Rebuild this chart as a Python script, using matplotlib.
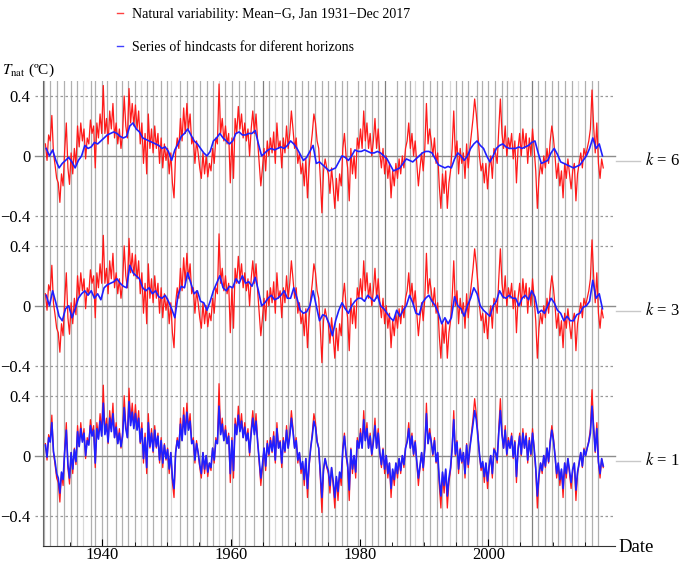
import matplotlib
matplotlib.use("Agg")
import matplotlib.pyplot as plt
import numpy as np

plt.rcParams['font.family'] = ['Liberation Serif', 'DejaVu Serif']
plt.rcParams['mathtext.fontset'] = 'stix'

# natural variability (red), quarterly values, 1931-2017
t_nat = [
    0.08, -0.03, 0.14, 0.10,   0.27, 0.02, -0.06, -0.15,   -0.18, -0.31, -0.12, -0.20,
    0.04, 0.22, -0.08, -0.19,  0.02, -0.12, 0.05, -0.06,   0.20, 0.06, 0.22, 0.10,
    0.18, -0.02, 0.12, 0.08,   0.24, 0.15, 0.20, -0.08,    0.22, 0.12, 0.28, 0.15,
    0.47, 0.15, 0.25, 0.08,    0.30, 0.18, 0.35, 0.12,     0.22, 0.08, 0.18, 0.05,
    0.15, 0.40, 0.20, 0.12,    0.45, 0.22, 0.35, 0.20,     0.34, 0.18, 0.30, 0.08,
    0.22, -0.05, 0.15, -0.12,  0.28, 0.05, 0.18, 0.02,     0.20, 0.05, 0.15, -0.05,
    0.12, -0.08, 0.08, -0.03,  0.05, -0.12, 0.02, -0.18,   -0.28, 0.02, 0.12, 0.05,
    0.25, 0.10, 0.32, 0.15,    0.35, 0.18, 0.28, 0.08,     0.12, -0.05, 0.10, 0.02,
    -0.08, -0.15, 0.02, -0.12, 0.00, -0.14, -0.05, -0.10,  0.05, -0.05, 0.12, 0.08,
    0.48, 0.15, 0.25, 0.10,    0.20, 0.08, 0.15, -0.18,    0.12, -0.15, 0.25, 0.15,
    0.33, 0.18, 0.28, 0.12,    0.22, 0.10, 0.18, 0.00,     0.18, 0.30, 0.15, 0.28,
    0.10, -0.05, -0.20, -0.08, 0.05, -0.10, 0.10, 0.00,    0.12, 0.02, 0.16, -0.05,
    0.22, 0.05, 0.10, -0.08,   0.12, 0.02, 0.20, 0.05,     0.15, 0.30, 0.18, 0.05,
    0.12, -0.05, 0.02, -0.12,  -0.05, -0.20, -0.02, -0.28, -0.08, 0.05, 0.15, 0.28,
    0.22, 0.10, 0.05, -0.15,   -0.38, -0.10, -0.02, -0.08, -0.12, -0.25, -0.08, -0.20,
    -0.35, -0.15, -0.30, -0.12, -0.20, 0.05, 0.15, 0.00,   -0.08, -0.30, 0.05, -0.12,
    0.00, -0.15, 0.12, 0.05,   0.18, 0.05, 0.30, 0.10,     0.22, 0.05, 0.15, 0.00,
    0.10, 0.25, 0.05, 0.18,    0.02, -0.08, 0.05, -0.12,   0.00, -0.15, -0.05, -0.28,
    -0.10, -0.20, -0.05, -0.15, -0.02, -0.12, 0.00, -0.08, 0.05, 0.10, 0.22, 0.05,
    0.15, 0.00, 0.10, -0.05,   -0.20, -0.08, 0.02, -0.10,  0.05, 0.35, 0.08, 0.18,
    0.10, 0.00, 0.12, -0.05,   0.02, -0.20, -0.35, -0.12,  -0.25, -0.10, -0.35, -0.18,
    -0.10, 0.05, 0.30, 0.00,   0.10, -0.12, 0.05, -0.05,   0.02, -0.15, 0.08, -0.08,
    0.05, 0.15, 0.25, 0.38,    0.28, 0.15, 0.00, -0.10,    -0.05, -0.18, -0.05, -0.22,
    -0.08, 0.00, -0.15, 0.05,  0.02, -0.05, 0.18, 0.38,    0.15, 0.05, 0.20, 0.00,
    0.12, 0.05, 0.15, -0.02,   0.10, -0.18, 0.05, 0.15,    0.00, 0.18, 0.05, 0.15,
    -0.05, 0.12, 0.00, 0.18,   0.05, -0.10, -0.35, -0.15,  -0.05, -0.12, 0.00, -0.08,
    0.05, -0.05, 0.10, 0.20,   0.12, 0.00, -0.15, -0.05,   -0.20, -0.10, -0.28, -0.05,
    -0.15, -0.02, -0.12, -0.22, -0.10, -0.05, -0.30, -0.12, -0.05, 0.02, -0.08, 0.05,
    0.00, 0.05, 0.10, 0.18,    0.44, 0.20, 0.02, 0.22,     -0.05, -0.15, -0.02, -0.08,
]

# hindcasts, k = 1 (quarterly)
hind_k1 = [
    0.07, -0.01, 0.12, 0.09,   0.22, 0.03, -0.04, -0.12,   -0.15, -0.25, -0.11, -0.16,
    0.03, 0.17, -0.06, -0.15,  0.02, -0.09, 0.04, -0.04,   0.16, 0.06, 0.18, 0.09,
    0.15, 0.00, 0.10, 0.07,    0.20, 0.13, 0.17, -0.05,    0.18, 0.11, 0.23, 0.13,
    0.35, 0.14, 0.21, 0.09,    0.25, 0.16, 0.28, 0.12,     0.19, 0.08, 0.15, 0.06,
    0.13, 0.32, 0.18, 0.12,    0.36, 0.20, 0.29, 0.18,     0.28, 0.17, 0.25, 0.09,
    0.18, -0.02, 0.12, -0.08,  0.22, 0.06, 0.15, 0.03,     0.17, 0.06, 0.13, -0.03,
    0.10, -0.05, 0.07, -0.02,  0.04, -0.09, 0.02, -0.15,   -0.22, 0.02, 0.10, 0.05,
    0.21, 0.10, 0.27, 0.14,    0.29, 0.17, 0.23, 0.08,     0.10, -0.03, 0.08, 0.02,
    -0.06, -0.12, 0.02, -0.09, 0.00, -0.11, -0.05, -0.08,  0.05, -0.03, 0.10, 0.08,
    0.33, 0.14, 0.21, 0.10,    0.17, 0.08, 0.13, -0.12,    0.10, -0.10, 0.21, 0.14,
    0.27, 0.16, 0.23, 0.12,    0.19, 0.10, 0.15, 0.02,     0.15, 0.25, 0.14, 0.23,
    0.09, -0.03, -0.15, -0.06, 0.05, -0.07, 0.08, 0.01,    0.10, 0.03, 0.13, -0.03,
    0.18, 0.05, 0.09, -0.05,   0.10, 0.03, 0.17, 0.05,     0.13, 0.25, 0.16, 0.05,
    0.10, -0.03, 0.02, -0.09,  -0.04, -0.16, -0.02, -0.22, -0.06, 0.05, 0.13, 0.23,
    0.19, 0.09, 0.05, -0.11,   -0.28, -0.09, -0.02, -0.07, -0.10, -0.20, -0.08, -0.17,
    -0.28, -0.14, -0.24, -0.11, -0.15, 0.04, 0.13, 0.01,   -0.06, -0.23, 0.04, -0.09,
    0.00, -0.11, 0.10, 0.05,   0.15, 0.05, 0.24, 0.10,     0.18, 0.05, 0.13, 0.01,
    0.09, 0.20, 0.05, 0.15,    0.02, -0.06, 0.04, -0.09,   0.00, -0.12, -0.05, -0.22,
    -0.09, -0.16, -0.05, -0.12, -0.02, -0.10, 0.00, -0.06, 0.05, 0.09, 0.18, 0.05,
    0.13, 0.01, 0.09, -0.04,   -0.15, -0.07, 0.02, -0.08,  0.05, 0.28, 0.08, 0.15,
    0.09, 0.01, 0.10, -0.04,   0.02, -0.16, -0.27, -0.11,  -0.20, -0.09, -0.27, -0.15,
    -0.08, 0.05, 0.24, 0.01,   0.09, -0.09, 0.04, -0.04,   0.02, -0.12, 0.07, -0.06,
    0.05, 0.13, 0.21, 0.30,    0.24, 0.13, 0.01, -0.08,    -0.04, -0.14, -0.05, -0.17,
    -0.07, 0.00, -0.12, 0.04,  0.02, -0.03, 0.15, 0.30,    0.14, 0.05, 0.17, 0.01,
    0.10, 0.05, 0.13, -0.01,   0.09, -0.14, 0.04, 0.13,    0.01, 0.15, 0.05, 0.13,
    -0.03, 0.10, 0.01, 0.15,   0.05, -0.08, -0.27, -0.13,  -0.05, -0.10, 0.00, -0.07,
    0.05, -0.04, 0.09, 0.17,   0.10, 0.00, -0.12, -0.05,   -0.16, -0.09, -0.22, -0.05,
    -0.12, -0.02, -0.10, -0.18, -0.09, -0.05, -0.23, -0.11, -0.05, 0.02, -0.07, 0.04,
    0.00, 0.05, 0.09, 0.15,    0.33, 0.18, 0.03, 0.18,     -0.04, -0.12, -0.02, -0.07,
]

# hindcasts, k = 3 (half-yearly)
hind_k3 = [
    0.07, 0.00, 0.10, 0.02, -0.07, -0.10, -0.02, 0.00, -0.08, -0.02,
    0.05, 0.08, 0.10, 0.07, 0.10, 0.05, 0.08, 0.04, 0.12, 0.14,
    0.15, 0.16, 0.18, 0.15, 0.13, 0.12, 0.27, 0.22, 0.20, 0.18,
    0.12, 0.10, 0.12, 0.08, 0.10, 0.06, 0.05, 0.07, 0.03, -0.02,
    -0.08, 0.07, 0.13, 0.12, 0.22, 0.15, 0.08, 0.10, 0.03, 0.02,
    -0.03, 0.03, 0.10, 0.15, 0.20, 0.12, 0.10, 0.13, 0.12, 0.18,
    0.15, 0.20, 0.15, 0.16, 0.13, 0.19, 0.10, 0.00, 0.02, 0.05,
    0.07, 0.04, 0.05, 0.07, 0.10, 0.05, 0.05, 0.12, 0.05, -0.03,
    -0.05, -0.04, 0.00, 0.10, 0.00, -0.10, -0.06, -0.07, -0.12, -0.20,
    -0.10, -0.03, 0.02, -0.02, -0.05, 0.00, 0.03, 0.05, 0.05, 0.03,
    0.07, 0.05, 0.03, 0.07, 0.00, -0.02, -0.05, -0.08, -0.10, -0.03,
    -0.07, -0.03, 0.00, 0.07, 0.02, -0.05, -0.06, 0.02, 0.05, 0.07,
    0.03, 0.00, -0.05, -0.12, -0.08, -0.12, -0.08, 0.06, 0.00, -0.02,
    -0.07, 0.00, 0.05, 0.12, 0.08, 0.00, -0.03, -0.05, -0.07, 0.00,
    0.03, 0.10, 0.06, 0.05, 0.07, 0.05, 0.05, 0.00, 0.05, 0.07,
    0.04, 0.10, 0.06, -0.05, -0.03, -0.05, 0.00, 0.05, 0.02, -0.03,
    -0.05, -0.10, -0.07, -0.10, -0.10, -0.06, -0.05, -0.01, 0.00, 0.03,
    0.17, 0.05, 0.08, -0.02,
]

# hindcasts, k = 6 (half-yearly)
hind_k6 = [
    0.05, 0.00, 0.04, -0.03, -0.08, -0.05, -0.03, -0.01, -0.04, -0.08,
    -0.03, 0.00, 0.07, 0.05, 0.06, 0.09, 0.08, 0.10, 0.12, 0.14,
    0.15, 0.16, 0.15, 0.13, 0.12, 0.13, 0.20, 0.22, 0.18, 0.16,
    0.12, 0.11, 0.10, 0.09, 0.08, 0.07, 0.05, 0.06, 0.03, -0.03,
    0.04, 0.08, 0.13, 0.15, 0.18, 0.14, 0.10, 0.08, 0.05, 0.02,
    0.00, 0.03, 0.10, 0.12, 0.15, 0.12, 0.10, 0.08, 0.10, 0.15,
    0.16, 0.14, 0.14, 0.15, 0.15, 0.17, 0.08, 0.00, 0.02, 0.04,
    0.05, 0.04, 0.05, 0.06, 0.05, 0.07, 0.10, 0.08, 0.05, 0.01,
    -0.03, -0.01, 0.03, 0.07, -0.05, -0.04, -0.06, -0.08, -0.10, -0.09,
    -0.08, -0.04, 0.00, -0.01, -0.03, 0.00, 0.04, 0.03, 0.03, 0.04,
    0.03, 0.02, 0.02, 0.03, 0.02, 0.00, -0.02, -0.06, -0.10, -0.09,
    -0.08, -0.05, -0.02, -0.03, -0.04, -0.02, 0.00, 0.02, 0.03, 0.03,
    0.02, -0.02, -0.06, -0.07, -0.08, -0.07, -0.08, -0.02, 0.02, 0.00,
    -0.03, 0.00, 0.05, 0.08, 0.10, 0.07, 0.05, 0.00, -0.04, 0.00,
    0.05, 0.07, 0.08, 0.06, 0.05, 0.05, 0.05, 0.06, 0.05, 0.06,
    0.07, 0.09, 0.10, 0.02, -0.05, -0.04, -0.03, 0.02, 0.05, 0.01,
    -0.04, -0.05, -0.06, -0.07, -0.08, -0.07, -0.06, -0.03, 0.00, 0.05,
    0.12, 0.05, 0.08, 0.00,
]

# gray vertical reference lines (year, shade)
vline_years = [
    1930.9, 1931.9, 1933.0, 1934.0, 1935.05, 1936.1, 1937.0, 1938.2, 1938.8, 1939.9,
    1940.75, 1942.1, 1943.0, 1944.0, 1945.05, 1946.0, 1946.9, 1947.9, 1949.05, 1950.0,
    1950.6, 1952.05, 1953.1, 1954.1, 1955.2, 1956.2, 1957.2, 1958.1, 1959.05, 1960.1,
    1961.3, 1962.2, 1963.5, 1964.9, 1965.9, 1966.8, 1967.9, 1968.9, 1969.9, 1971.0,
    1972.0, 1973.05, 1974.1, 1975.1, 1976.2, 1977.2, 1978.0, 1979.8, 1980.8, 1981.9,
    1982.9, 1983.9, 1985.75, 1987.0, 1987.8, 1988.6, 1989.9, 1990.9, 1992.0, 1992.75,
    1994.0, 1994.9, 1995.9, 1996.9, 1998.2, 1999.0, 2000.0, 2001.0, 2002.1, 2002.9,
    2003.9, 2004.9, 2006.75, 2007.8, 2008.8, 2009.9, 2010.9, 2011.9, 2013.0, 2014.0,
    2015.0, 2016.1, 2017.1,
]
vline_shade = [
    'm', 'm', 'm', 'm', 'm', 'm', 'l', 'm', 'm', 'm',
    'm', 'm', 'm', 'm', 'm', 'l', 'm', 'm', 'm', 'm',
    'l', 'm', 'm', 'm', 'm', 'm', 'm', 'l', 'm', 'm',
    'm', 'm', 'm', 'd', 'm', 'l', 'm', 'm', 'm', 'm',
    'm', 'm', 'm', 'm', 'm', 'm', 'm', 'm', 'm', 'm',
    'm', 'd', 'm', 'm', 'm', 'l', 'm', 'm', 'm', 'm',
    'l', 'm', 'm', 'm', 'm', 'm', 'm', 'm', 'm', 'm',
    'l', 'm', 'd', 'm', 'm', 'm', 'm', 'm', 'm', 'l',
    'm', 'm', 'm',
]
shade_col = {'l': '#d8d8d8', 'm': '#b0b0b0', 'd': '#808080'}

horizons = [1, 3, 6]
hindcasts = [hind_k1, hind_k3, hind_k6]
yticks_rel = [-0.4, 0, 0.4]

x_q = 1931 + (np.arange(len(t_nat)) + 0.5) / 4
x_h = 1931 + (np.arange(len(hind_k3)) + 0.5) / 2

fig = plt.figure(figsize=(6.85, 5.64), dpi=100)
ax = fig.add_axes([43 / 685, 18.5 / 564, 572 / 685, 464.5 / 564])

for yr, sh in zip(vline_years, vline_shade):
    ax.axvline(yr, color=shade_col[sh], lw=0.9, zorder=1)

tick_pos = []
tick_lab = []
for i, (k, hind) in enumerate(zip(horizons, hindcasts)):
    off = i * 1.0
    ax.axhline(off, xmin=-0.014, color='#8c8c8c', lw=1.0, zorder=2, clip_on=False)
    for g in (-0.4, 0.4):
        ax.axhline(off + g, xmin=-0.014, color='#999999', lw=0.9,
                   ls=(0, (2, 2)), zorder=2, clip_on=False)
    ax.plot(x_q, np.array(t_nat) + off, color='#ff1a1a', lw=0.9, zorder=3)
    x_b = x_q if len(hind) == len(x_q) else x_h
    ax.plot(x_b, np.array(hind) + off, color='#1f1fff', lw=1.2, zorder=4)
    # label to the right
    ax.plot([1.002, 1.044], [off - 0.033, off - 0.033], color='#c8c8c8', lw=1.0,
            transform=ax.get_yaxis_transform(), clip_on=False)
    ax.text(1.052, off - 0.033, f'$k$ = {k}', transform=ax.get_yaxis_transform(),
            va='center', ha='left', fontsize=12)
    for v in yticks_rel:
        tick_pos.append(off + v)
        tick_lab.append('0' if v == 0 else f'{v:g}'.replace('-', '\u2212'))

ax.set_xlim(1930.75, 2019.7)
ax.set_ylim(-0.6, 2.5)
ax.set_yticks(tick_pos)
ax.set_yticklabels(tick_lab)
ax.tick_params(axis='y', length=0, pad=9, labelsize=12)
ax.set_xticks([1940, 1960, 1980, 2000])
ax.set_xticks(np.arange(1935, 2020, 5), minor=True)
ax.tick_params(axis='x', which='major', direction='in', length=5, labelsize=12, pad=1)
ax.tick_params(axis='x', which='minor', direction='in', length=3)
for s in ('top', 'right'):
    ax.spines[s].set_visible(False)
ax.spines['left'].set_color('#666666')
ax.spines['bottom'].set_color('#333333')

fig.text(618 / 685, 1 - 547 / 564, 'Date', fontsize=13.5, va='center', ha='left')
fig.text(2 / 685, 1 - 70 / 564, r'$T_{\rm nat}$ (ºC)', fontsize=11, va='center', ha='left')

h1, = ax.plot([], [], color='#ff4040', lw=1.0)
h2, = ax.plot([], [], color='#4040ff', lw=1.0)
fig.legend([h1, h2], ['Natural variability: Mean\u2212G, Jan 1931\u2212Dec 2017',
                      'Series of hindcasts for diferent horizons'],
           loc='upper left', bbox_to_anchor=(104 / 685, 1.008), frameon=False,
           fontsize=10, handlelength=0.5, handletextpad=0.6, labelspacing=1.45)

fig.savefig('out.png', dpi=100)
